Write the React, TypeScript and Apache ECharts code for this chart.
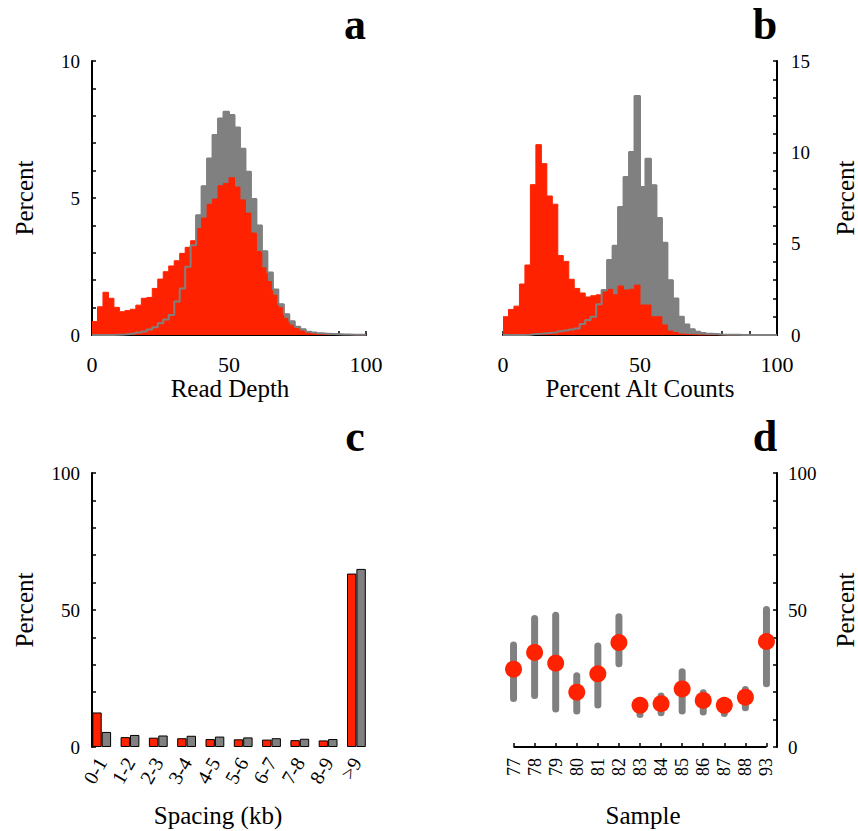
import React, { useEffect, useRef } from "react";
import * as echarts from "echarts";

// ---------- data ----------
const BIN_WIDTH = 2;
const readDepthRed = [0.49, 1.03, 1.56, 1.34, 1.01, 0.85, 0.89, 0.94, 1.09, 1.34, 1.37, 1.7, 2.04, 2.31, 2.52, 2.71, 2.98, 3.2, 3.44,
  3.89, 4.27, 4.77, 4.96, 5.45, 5.53, 5.74, 5.4, 4.93, 4.45, 3.72, 3.05, 2.45, 1.95, 1.45, 1.0, 0.6, 0.36, 0.24, 0.15,
  0.09, 0.06, 0.05, 0.04, 0.03, 0.02, 0.02, 0.01, 0.01, 0.0, 0.0];
const readDepthGray = [0, 0, 0, 0, 0.01, 0.02, 0.04, 0.06, 0.09, 0.13, 0.2, 0.28, 0.43, 0.57, 0.73, 1.22, 1.7, 2.49, 3.28,
  4.37, 5.43, 6.44, 7.3, 7.9, 8.15, 8.03, 7.57, 6.8, 5.96, 4.96, 4.0, 3.06, 2.28, 1.66, 1.12, 0.76, 0.5, 0.3, 0.21,
  0.12, 0.09, 0.06, 0.05, 0.04, 0.03, 0.02, 0.02, 0.01, 0.01, 0.01];
const altRed = [1.0, 1.4, 1.58, 2.79, 3.83, 8.23, 10.42, 9.38, 7.61, 7.16, 4.35, 4.03, 3.05, 2.55, 2.3, 2.08, 2.15, 2.2, 2.35,
  2.5, 2.2, 2.68, 2.46, 2.5, 2.73, 1.64, 1.64, 1.0, 1.0, 0.55, 0.22, 0.13, 0.05, 0.02, 0.01, 0, 0, 0, 0, 0,
  0, 0, 0, 0, 0, 0, 0, 0, 0, 0];
const altGray = [0, 0, 0, 0, 0.02, 0.05, 0.07, 0.1, 0.12, 0.15, 0.2, 0.25, 0.3, 0.36, 0.6, 0.82, 1.0, 1.69, 2.46,
  4.1, 4.88, 7.01, 8.65, 10.02, 13.08, 8.1, 9.65, 8.2, 6.41, 5.05, 3.0, 2.0, 1.0, 0.58, 0.31, 0.18, 0.11, 0.07, 0.05, 0.03,
  0.02, 0.01, 0.01, 0, 0, 0, 0, 0, 0, 0];

const spacingCats = ["0-1", "1-2", "2-3", "3-4", "4-5", "5-6", "6-7", "7-8", "8-9", ">9"];
const spacingRed = [12.6, 3.6, 3.4, 3.2, 2.9, 2.8, 2.7, 2.5, 2.4, 63.3];
const spacingGray = [5.5, 4.4, 4.2, 4.1, 3.8, 3.5, 3.2, 3.0, 2.9, 65.0];

const samples = ["77", "78", "79", "80", "81", "82", "83", "84", "85", "86", "87", "88", "93"];
const sampleValue = [28.4, 34.5, 30.6, 20.0, 26.7, 38.1, 15.2, 15.8, 21.2, 17.0, 15.2, 18.2, 38.5];
const sampleLow = [17.7, 18.8, 13.9, 13.1, 15.3, 30.4, 11.9, 12.5, 13.1, 12.8, 12.2, 14.3, 23.1];
const sampleHigh = [37.2, 46.9, 48.1, 26.0, 36.9, 47.5, 15.2, 18.6, 27.5, 19.8, 16.9, 21.0, 50.2];

// ---------- styles ----------
const RED = "#ff2200";
const GRAY = "#808080";
const FONT = "'Liberation Serif', 'DejaVu Serif', serif";

function steps(vals: number[]) {
  const pts = vals.map((v, i) => [i * BIN_WIDTH, v]);
  pts.push([vals.length * BIN_WIDTH, vals[vals.length - 1]]);
  return pts;
}

function valueAxis(gridIndex: number, min: number, max: number, interval: number, every: number, position: string, margin: number, fontSize = 19) {
  return {
    type: "value",
    gridIndex,
    min,
    max,
    interval,
    position,
    axisLine: { show: true, onZero: false, lineStyle: { color: "#000", width: 2 } },
    axisTick: { show: true, inside: true, length: 4, lineStyle: { color: "#000", width: 1.5 } },
    axisLabel: {
      formatter: (v: number) => (Math.abs(v % every) < 1e-9 ? String(v) : ""),
      margin,
      fontSize,
      fontFamily: FONT,
      color: "#000",
    },
    splitLine: { show: false },
  };
}

function histSeries(axis: number, vals: number[], color: string, z: number, fill: boolean, width: number) {
  return {
    type: "line",
    xAxisIndex: axis,
    yAxisIndex: axis,
    data: steps(vals),
    step: "end",
    symbol: "none",
    showSymbol: false,
    lineStyle: { color, width },
    areaStyle: fill ? { color, opacity: 1 } : undefined,
    z,
    silent: true,
  };
}

function label(text: string, x: number, y: number, size: number, bold = false, rotate = 0) {
  return {
    type: "text",
    x,
    y,
    rotation: rotate,
    style: {
      text,
      fontSize: size,
      fontFamily: FONT,
      fontWeight: bold ? "bold" : "normal",
      fill: "#000",
      textAlign: "center",
      textVerticalAlign: "middle",
    },
  };
}

export default function App() {
  const ref = useRef<HTMLDivElement>(null);
  useEffect(() => {
    if (!ref.current) return;
    const chart = echarts.init(ref.current, null, { renderer: "svg" });
    const option: any = {
      animation: false,
      backgroundColor: "#fff",
      grid: [
        { left: 92, top: 61, width: 274, height: 274 },
        { left: 503, top: 61, width: 274, height: 274 },
        { left: 87.55, top: 473, width: 283, height: 274 },
        { left: 503, top: 473, width: 274, height: 274 },
        { left: 92, top: 473, width: 274, height: 274 },
      ],
      xAxis: [
        valueAxis(0, 0, 100, 10, 50, "bottom", 18, 22),
        valueAxis(1, 0, 100, 10, 50, "bottom", 18, 22),
        {
          type: "category",
          gridIndex: 2,
          data: spacingCats,
          boundaryGap: true,
          axisLine: { show: false },
          axisTick: { show: false },
          axisLabel: { rotate: 60, margin: 12, fontSize: 20, fontFamily: FONT, color: "#000", interval: 0 },
          splitLine: { show: false },
        },
        {
          type: "category",
          gridIndex: 3,
          data: samples,
          boundaryGap: true,
          axisLine: { show: false },
          axisTick: { show: true, inside: true, alignWithLabel: true, length: 4, lineStyle: { color: "#000", width: 1.5 } },
          axisLabel: { rotate: 90, margin: 11, fontSize: 18, fontFamily: FONT, color: "#000", interval: 0 },
          splitLine: { show: false },
        },
        { type: "value", gridIndex: 4, min: 0, max: 100, show: false },
      ],
      yAxis: [
        valueAxis(0, 0, 10, 1, 5, "left", 12),
        valueAxis(1, 0, 15, 1, 5, "right", 14),
        { type: "value", gridIndex: 2, min: 0, max: 100, show: false },
        valueAxis(3, 0, 100, 10, 50, "right", 11),
        valueAxis(4, 0, 100, 10, 50, "left", 12),
      ],
      series: [
        histSeries(0, readDepthGray, GRAY, 1, true, 1),
        histSeries(0, readDepthRed, RED, 2, true, 1),
        histSeries(0, readDepthGray, GRAY, 3, false, 2),
        histSeries(1, altGray, GRAY, 1, true, 1),
        histSeries(1, altRed, RED, 2, true, 1),
        histSeries(1, altGray, GRAY, 3, false, 2),
        {
          type: "bar",
          xAxisIndex: 2,
          yAxisIndex: 2,
          data: spacingRed,
          barWidth: 9.4,
          barGap: "0%",
          itemStyle: { color: RED, borderColor: "#000", borderWidth: 1 },
        },
        {
          type: "bar",
          xAxisIndex: 2,
          yAxisIndex: 2,
          data: spacingGray,
          barWidth: 9.4,
          barGap: "0%",
          itemStyle: { color: GRAY, borderColor: "#000", borderWidth: 1 },
        },
        {
          type: "custom",
          xAxisIndex: 3,
          yAxisIndex: 3,
          data: samples.map((s, i) => [i, sampleLow[i], sampleHigh[i]]),
          encode: { x: 0, y: [1, 2] },
          z: 2,
          renderItem: (params: any, api: any) => {
            const x = api.value(0);
            const p1 = api.coord([x, api.value(1)]);
            const p2 = api.coord([x, api.value(2)]);
            return {
              type: "line",
              shape: { x1: p1[0], y1: p1[1], x2: p2[0], y2: p2[1] },
              style: { stroke: GRAY, lineWidth: 7, lineCap: "round" },
            };
          },
        },
        {
          type: "scatter",
          xAxisIndex: 3,
          yAxisIndex: 3,
          data: sampleValue,
          symbol: "circle",
          symbolSize: 17,
          itemStyle: { color: RED, opacity: 1 },
          z: 5,
          markLine: {
            silent: true,
            symbol: ["none", "none"],
            label: { show: false },
            lineStyle: { color: "#000", width: 2, type: "solid" },
            data: [[{ coord: [0, 0] }, { coord: [samples.length - 1, 0] }]],
          },
        },
      ],
      graphic: [
        label("a", 355, 24, 44, true),
        label("b", 765, 24, 44, true),
        label("c", 355, 436, 44, true),
        label("d", 765, 436, 44, true),
        label("Read Depth", 230, 388, 25),
        label("Percent Alt Counts", 640, 388, 25),
        label("Spacing (kb)", 218, 815, 25),
        label("Sample", 643, 815, 25),
        label("Percent", 24, 198, 25, false, Math.PI / 2),
        label("Percent", 845, 198, 25, false, Math.PI / 2),
        label("Percent", 24, 610, 25, false, Math.PI / 2),
        label("Percent", 845, 610, 25, false, Math.PI / 2),
      ],
    };
    chart.setOption(option);
    return () => chart.dispose();
  }, []);
  return <div ref={ref} style={{ position: "absolute", left: 0, top: 0, width: 858, height: 831 }} />;
}
